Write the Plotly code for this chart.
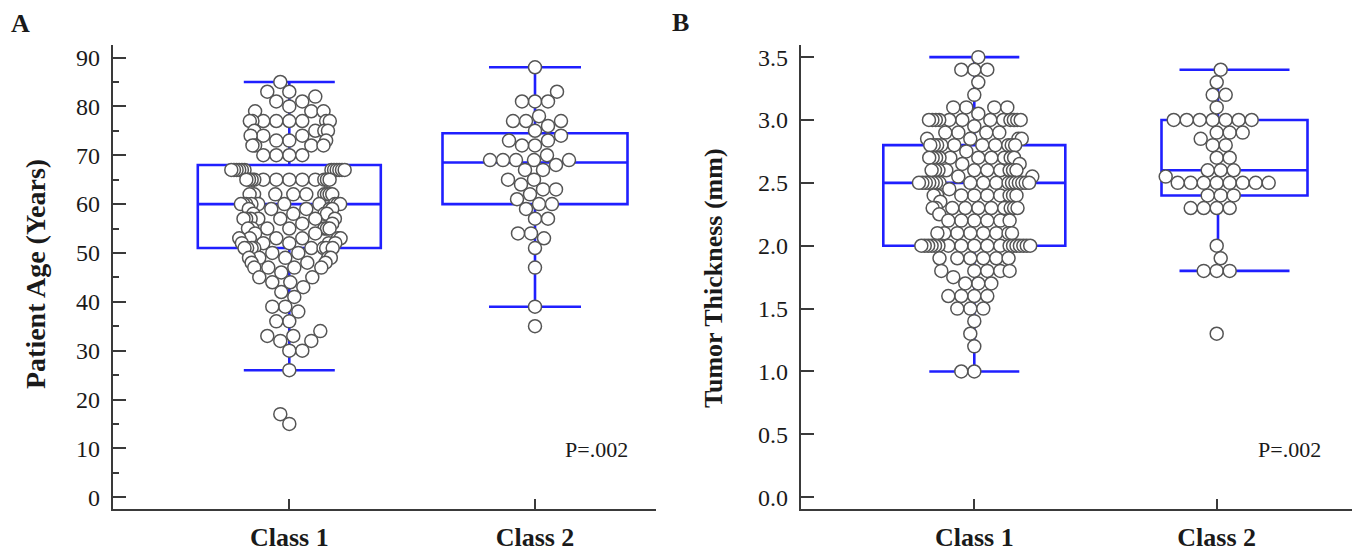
import plotly.graph_objects as go

# page has an 8px body margin: figure sized to fit the 1360x557 window
OFF = 8.0
W, H = 1352, 549

categories = ["Class 1", "Class 2"]

# ---- Panel A: patient age (value, count) ----
age_c1_values = [85, 83, 82, 81, 80, 79, 77, 75, 74, 73, 72, 70, 67, 65, 62, 60, 59, 58, 57, 56,
                 55, 54, 53, 52, 51, 50, 49, 48, 47, 46, 45, 44, 43, 42, 41, 39, 38, 36, 34, 33,
                 32, 30, 26, 17, 15]
age_c1_counts = [1, 2, 1, 2, 1, 3, 8, 4, 3, 3, 4, 4, 12, 12, 9, 10, 5, 4, 7, 2,
                 7, 2, 6, 5, 8, 2, 5, 3, 4, 1, 2, 2, 1, 1, 1, 2, 1, 2, 1, 2,
                 2, 2, 1, 1, 1]
age_c2_values = [88, 83, 81, 78, 77, 76, 75, 74, 73, 72, 70, 69, 68, 67, 65, 64, 63, 62, 61, 60,
                 59, 57, 54, 53, 51, 47, 39, 35]
age_c2_counts = [1, 1, 3, 1, 3, 1, 1, 1, 2, 2, 1, 5, 1, 2, 2, 1, 2, 1, 1, 2,
                 1, 2, 2, 1, 1, 1, 1, 1]
# box stats: q1, median, q3, lower whisker, upper whisker
age_box_q1 = [51, 60]
age_box_median = [60, 68.5]
age_box_q3 = [68, 74.5]
age_box_low = [26, 39]
age_box_high = [85, 88]

# ---- Panel B: tumor thickness (value, count) ----
thk_c1_values = [3.5, 3.4, 3.3, 3.2, 3.1, 3.05, 3.0, 2.95, 2.9, 2.85, 2.8, 2.75, 2.7, 2.65, 2.6,
                 2.55, 2.5, 2.45, 2.4, 2.35, 2.3, 2.25, 2.2, 2.1, 2.0, 1.9, 1.8, 1.75, 1.7, 1.6,
                 1.5, 1.4, 1.3, 1.2, 1.0]
thk_c1_counts = [1, 3, 1, 1, 4, 1, 12, 1, 4, 4, 10, 1, 10, 2, 10,
                 2, 17, 1, 9, 1, 10, 1, 6, 8, 18, 6, 5, 1, 3, 4,
                 3, 1, 1, 1, 2]
thk_c2_values = [3.4, 3.3, 3.2, 3.1, 3.0, 2.9, 2.85, 2.8, 2.7, 2.6, 2.55, 2.5, 2.4, 2.3, 2.0, 1.9,
                 1.8, 1.3]
thk_c2_counts = [1, 1, 2, 1, 7, 3, 1, 2, 2, 3, 1, 8, 3, 4, 1, 1,
                 3, 1]
thk_box_q1 = [2.0, 2.4]
thk_box_median = [2.5, 2.6]
thk_box_q3 = [2.8, 3.0]
thk_box_low = [1.0, 1.8]
thk_box_high = [3.5, 3.4]

p_text = "P=.002"


def expand(values, counts):
    out = []
    for v, c in zip(values, counts):
        out += [v] * c
    return out


def px(x):
    return (x - OFF) / W


def py(y):
    return 1 - (y - OFF) / H


# ---- geometry (window pixels) ----
Y_TOP, Y_BOT = 45.0, 510.7
A_X0, A_X1 = 112.7, 655.7
B_X0, B_X1 = 800.7, 1351.7
A_C1, A_C2 = 289.3, 535.0
B_C1, B_C2 = 974.3, 1216.7
A_Y0PIX, A_Y90PIX = 499.0, 57.7
B_Y0PIX, B_Y35PIX = 499.0, 57.3

a_xpu = A_C2 - A_C1
a_xrange = [(A_X0 - A_C1) / a_xpu, (A_X1 - A_C1) / a_xpu]
a_ypu = (A_Y0PIX - A_Y90PIX) / 90.0
a_yrange = [-(Y_BOT - A_Y0PIX) / a_ypu, (A_Y0PIX - Y_TOP) / a_ypu]

b_xpu = B_C2 - B_C1
b_xrange = [(B_X0 - B_C1) / b_xpu, (B_X1 - B_C1) / b_xpu]
b_ypu = (B_Y0PIX - B_Y35PIX) / 3.5
b_yrange = [-(Y_BOT - B_Y0PIX) / b_ypu, (B_Y0PIX - Y_TOP) / b_ypu]

# box placement per panel (box centre px, box width px, cap width px, whisker px)
a_boxes = [(A_C1, 183.0, 91.0, A_C1), (A_C2, 185.0, 92.0, A_C2)]
b_boxes = [(B_C1, 182.0, 90.0, B_C1), (1234.5, 146.0, 110.0, 1218.0)]


def swarm(vals, ypu, xpu, d=13.0, hmax=58.0, c=34.0):
    n = len(vals)
    order = sorted(range(n), key=lambda i: vals[i])
    placed = []
    offs = [0.0] * n
    for k, i in enumerate(order):
        y = vals[i] * ypu
        near = [(xx, yy) for (xx, yy) in placed if abs(yy - y) < d]
        found = 0.0
        for step in range(0, 400):
            cands = [0] if step == 0 else ([step, -step] if k % 2 == 0 else [-step, step])
            ok_c = None
            for s in cands:
                if all((xx - s) ** 2 + (yy - y) ** 2 >= d * d for (xx, yy) in near):
                    ok_c = s
                    break
            if ok_c is not None:
                found = float(ok_c)
                break
        placed.append((found, y))
        offs[i] = found
    m = max(abs(o) for o in offs) if offs else 0
    if m > hmax:
        new = []
        for o in offs:
            a = abs(o)
            if a > c:
                a = c + (a - c) * (hmax - c) / (m - c)
            new.append(a if o >= 0 else -a)
        offs = new
    return [o / xpu for o in offs]


BLUE = "#1f1fff"
AXC = "#3a3a3a"
TXT = "#1a1a1a"
FONT = "Liberation Serif"
LW = 2.6

fig = go.Figure()


def add_panel(xa, ya, q1, med, q3, lo, hi, groups, ypu, xpu, c1px, boxes):
    for k in range(2):
        cpx, wpx, cap, wxpx = boxes[k]
        xc = (cpx - c1px) / xpu
        xw = (wxpx - c1px) / xpu
        hc = cap / 2.0 / xpu
        # whiskers and caps
        fig.add_trace(go.Scatter(
            x=[xw, xw, None, xw, xw, None, xc - hc, xc + hc, None, xc - hc, xc + hc],
            y=[q3[k], hi[k], None, q1[k], lo[k], None, hi[k], hi[k], None, lo[k], lo[k]],
            mode="lines", line=dict(color=BLUE, width=LW),
            xaxis=xa, yaxis=ya, showlegend=False, hoverinfo="skip"))
        # box body
        fig.add_trace(go.Box(
            x=[xc], q1=[q1[k]], median=[med[k]], q3=[q3[k]],
            lowerfence=[q1[k]], upperfence=[q3[k]],
            width=wpx / xpu, whiskerwidth=0, boxpoints=False,
            line=dict(color=BLUE, width=LW), fillcolor="rgba(0,0,0,0)",
            xaxis=xa, yaxis=ya, showlegend=False, hoverinfo="skip"))
    for k, vals in enumerate(groups):
        offs = swarm(vals, ypu, xpu)
        fig.add_trace(go.Scatter(
            x=[k + o for o in offs], y=vals, mode="markers",
            marker=dict(size=13, color="white", line=dict(color="#555555", width=1.5)),
            xaxis=xa, yaxis=ya, showlegend=False, hoverinfo="skip"))


add_panel("x", "y", age_box_q1, age_box_median, age_box_q3, age_box_low, age_box_high,
          [expand(age_c1_values, age_c1_counts), expand(age_c2_values, age_c2_counts)],
          a_ypu, a_xpu, A_C1, a_boxes)
add_panel("x2", "y2", thk_box_q1, thk_box_median, thk_box_q3, thk_box_low, thk_box_high,
          [expand(thk_c1_values, thk_c1_counts), expand(thk_c2_values, thk_c2_counts)],
          b_ypu, b_xpu, B_C1, b_boxes)

xcommon = dict(showgrid=False, zeroline=False, showline=True, linecolor=AXC, linewidth=2,
               ticks="inside", ticklen=10, tickwidth=2, tickcolor=AXC,
               tickvals=[0, 1], ticktext=categories,
               tickfont=dict(family=FONT, size=26, color=TXT, weight="bold"),
               ticklabelstandoff=4)
ycommon = dict(showgrid=False, zeroline=False, showline=True, linecolor=AXC, linewidth=2,
               ticks="inside", ticklen=13, tickwidth=2, tickcolor=AXC,
               tickfont=dict(family=FONT, size=24, color=TXT), ticklabelstandoff=6,
               domain=[py(Y_BOT), py(Y_TOP)])

fig.update_layout(
    width=W, height=H, margin=dict(l=0, r=0, t=0, b=0),
    paper_bgcolor="white", plot_bgcolor="white",
    xaxis=dict(xcommon, domain=[px(A_X0), px(A_X1)], range=a_xrange, anchor="y"),
    yaxis=dict(ycommon, range=a_yrange, tickvals=list(range(0, 100, 10)), anchor="x",
               minor=dict(tickvals=list(range(5, 95, 10)), ticks="inside", ticklen=6,
                          tickwidth=2, tickcolor=AXC)),
    xaxis2=dict(xcommon, domain=[px(B_X0), px(B_X1)], range=b_xrange, anchor="y2"),
    yaxis2=dict(ycommon, range=b_yrange, tickvals=[0, 0.5, 1, 1.5, 2, 2.5, 3, 3.5],
                ticktext=["0.0", "0.5", "1.0", "1.5", "2.0", "2.5", "3.0", "3.5"], anchor="x2"),
)

ann = [
    dict(text="A", x=px(20), y=py(24), font=dict(size=26, weight="bold")),
    dict(text="B", x=px(680), y=py(23), font=dict(size=26, weight="bold")),
    dict(text="Patient Age (Years)", x=px(35), y=py(275), textangle=-90, font=dict(size=28, weight="bold")),
    dict(text="Tumor Thickness (mm)", x=px(713), y=py(279), textangle=-90, font=dict(size=26, weight="bold")),
    dict(text=p_text, x=px(596), y=py(451), font=dict(size=22)),
    dict(text=p_text, x=px(1289), y=py(451), font=dict(size=22)),
]
for a in ann:
    f = dict(family=FONT, color=TXT)
    f.update(a.pop("font"))
    fig.add_annotation(xref="paper", yref="paper", xanchor="center", yanchor="middle",
                       showarrow=False, font=f, **a)

fig.write_html("out.html")
